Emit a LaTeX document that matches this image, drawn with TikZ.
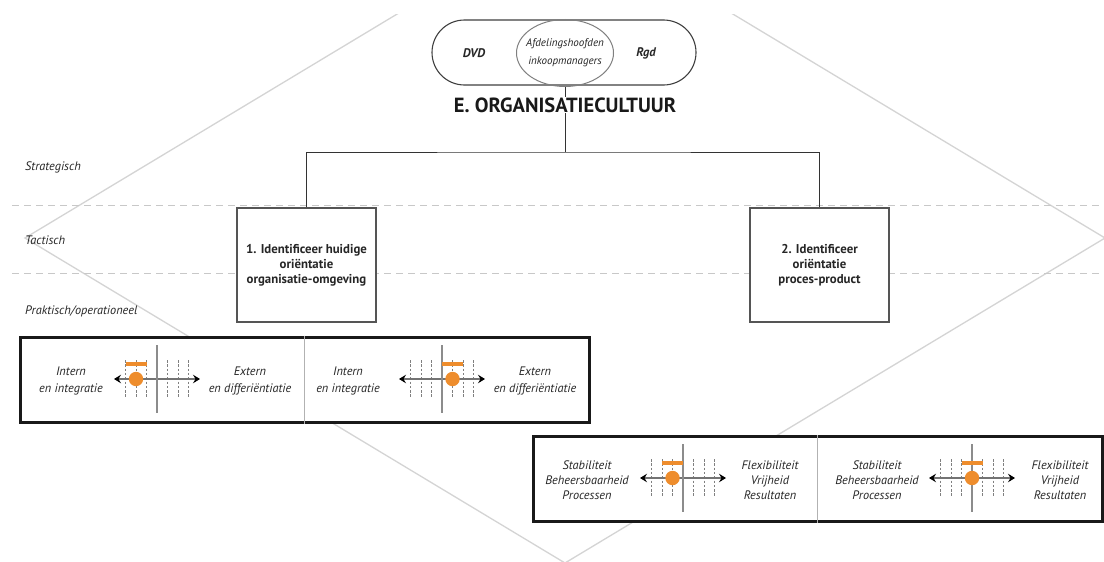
\documentclass[tikz,border=0pt]{standalone}
\usepackage{fontspec}
\setmainfont{PT Sans}
\usetikzlibrary{arrows.meta,shapes.misc,shapes.geometric}
\definecolor{gaugeorange}{RGB}{238,141,45}
\definecolor{diamondgrey}{RGB}{212,212,212}
\definecolor{levelgrey}{RGB}{200,200,200}
\definecolor{boxgrey}{RGB}{85,85,85}
\tikzset{
  diamondline/.style={draw=diamondgrey, line width=1.3pt},
  levelline/.style={draw=levelgrey, line width=0.9pt, dash pattern=on 7pt off 5pt},
  levellabel/.style={anchor=west, inner sep=0pt, font=\itshape\fontsize{12.3}{14}\selectfont, text=black!85},
  stepbox/.style={draw=boxgrey, fill=white, line width=1.2pt, minimum width=139pt, minimum height=114pt,
    align=center, inner sep=0pt, font=\bfseries\fontsize{12.8}{15}\selectfont, text=black!85},
  connector/.style={draw=black!80, line width=1pt},
  panel/.style={draw=black!90, fill=white, line width=3pt, minimum width=569pt, minimum height=85pt, inner sep=0pt},
  divider/.style={draw=black!30, line width=0.8pt},
  celltext/.style={align=center, inner sep=0pt, font=\itshape\fontsize{12.3}{16.5}\selectfont, text=black!85},
  celltextb/.style={align=center, inner sep=0pt, font=\itshape\fontsize{12.3}{15}\selectfont, text=black!85},
  gaugetip/.tip={Stealth[black,length=7pt,width=8.5pt,inset=2.5pt]},
  pics/gauge/.style n args={3}{code={
    \foreach \gx in {-31.5,-21,-10.5,10.5,21,31.5}
      \draw[black!50, line width=0.9pt, dash pattern=on 2.5pt off 1.8pt] (\gx,-19) -- (\gx,18);
    \draw[black!55, line width=1.4pt, {gaugetip}-{gaugetip}] (-43,0) -- (43,0);
    \draw[black!45, line width=1.6pt] (0,-34) -- (0,34);
    \draw[gaugeorange, line width=4pt] (#1,-15) -- (#2,-15);
    \fill[gaugeorange] (#3,0) circle (7.2pt);
  }}
}
\begin{document}
\begin{tikzpicture}[x=1pt,y=-1pt]
\useasboundingbox (0,0) rectangle (1104,562);
\fill[white] (0,0) rectangle (1104,562);

% background diamond, cut off at the top
\begin{scope}
  \clip (0,14) rectangle (1104,562);
  \draw[diamondline] (565,-87) -- (25,238) -- (565,563) -- (1105,238) -- cycle;
\end{scope}

% level separators
\coordinate (sepAl) at (12,205);  \coordinate (sepAr) at (1104,205);
\coordinate (sepBl) at (12,273);  \coordinate (sepBr) at (1104,273);
\draw[levelline] (sepAl) -- (sepAr);
\draw[levelline] (sepBl) -- (sepBr);

% level labels
\node[levellabel] (lstrat) at (25,167) {Strategisch};
\node[levellabel] (ltact) at (25,240) {Tactisch};
\node[levellabel] (lprakt) at (25,311) {Praktisch/operationeel};

% stakeholders
\node[rounded rectangle, draw=black!75, line width=1.1pt, minimum width=264pt, minimum height=65pt, inner sep=0pt] (pill) at (564,52.5) {};
\node[ellipse, draw=black!50, line width=1pt, minimum width=97pt, minimum height=67pt, inner sep=0pt] (mid) at (565,53) {};
\node[align=center, inner sep=0pt, font=\itshape\fontsize{11}{18}\selectfont, text=black!85] (midtext) at (565,53) {Afdelingshoofden\\inkoopmanagers};
\node[inner sep=0pt, font=\bfseries\itshape\fontsize{12.5}{14}\selectfont, text=black!85] (dvd) at (474,53) {DVD};
\node[inner sep=0pt, font=\bfseries\itshape\fontsize{12.5}{14}\selectfont, text=black!85] (rgd) at (646,53) {Rgd};

% tree
\coordinate (hub) at (565,152);
\node[stepbox] (box1) at (306.5,265) {1. Identificeer huidige\\oriëntatie\\organisatie-omgeving};
\node[stepbox] (box2) at (819.5,265) {2. Identificeer\\oriëntatie\\proces-product};
\draw[connector] (mid.south) -- (hub);
\draw[connector] (box1.north) |- (hub) -| (box2.north);
\node[fill=white, inner sep=1pt, font=\bfseries\fontsize{20.5}{24}\selectfont, text=black!90] (title) at (565,105) {E. ORGANISATIECULTUUR};

% practical panels
\node[panel] (panelL) at (304.5,379.5) {};
\draw[divider] (panelL.north) -- (panelL.south);
\node[panel] (panelR) at (817.5,479) {};
\draw[divider] (panelR.north) -- (panelR.south);

\pic at (157,379) {gauge={-31.5}{-10.5}{-21}};
\pic at (442,379) {gauge={0}{21}{10.5}};
\pic at (683,478) {gauge={-21}{0}{-10.5}};
\pic at (972,478) {gauge={-10.5}{10.5}{0}};

\node[celltext] (l1a) at (71,381) {Intern\\en integratie};
\node[celltext] (l1b) at (250,381) {Extern\\en differiëntiatie};
\node[celltext] (l2a) at (348,381) {Intern\\en integratie};
\node[celltext] (l2b) at (535,381) {Extern\\en differiëntiatie};
\node[celltextb] (r1a) at (587,480) {Stabiliteit\\Beheersbaarheid\\Processen};
\node[celltextb] (r1b) at (770,480) {Flexibiliteit\\Vrijheid\\Resultaten};
\node[celltextb] (r2a) at (877,480) {Stabiliteit\\Beheersbaarheid\\Processen};
\node[celltextb] (r2b) at (1060,480) {Flexibiliteit\\Vrijheid\\Resultaten};
\end{tikzpicture}
\end{document}
